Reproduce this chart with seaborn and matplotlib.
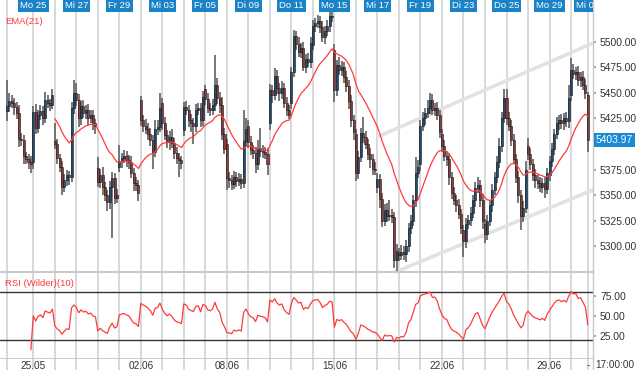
import numpy as np
import pandas as pd
import matplotlib
matplotlib.use("Agg")
import matplotlib.pyplot as plt
import seaborn as sns
from matplotlib.ticker import FormatStrFormatter

# ---------------- data (hourly closes per trading day) ----------------
fr22_close = [5437, 5442, 5440, 5436, 5430, 5405, 5404, 5388, 5385, 5382, 5380]
mo25_close = [5431, 5416, 5428, 5432, 5425, 5443, 5440, 5438, 5448]
di26_close = [5400, 5386, 5378, 5358, 5365, 5370, 5368, 5435, 5450]
mi27_close = [5443, 5425, 5437, 5430, 5433, 5425, 5428, 5420, 5418]
do28_close = [5363, 5370, 5358, 5350, 5343, 5358, 5367, 5347, 5350]
fr29_close = [5383, 5386, 5388, 5384, 5382, 5372, 5362, 5360, 5352]
di02_close = [5423, 5418, 5415, 5410, 5404, 5392, 5415, 5417, 5435]
mi03_close = [5420, 5409, 5402, 5407, 5401, 5391, 5386, 5384, 5381]
do04_close = [5436, 5433, 5423, 5420, 5418, 5433, 5435, 5423, 5446]
fr05_close = [5444, 5435, 5433, 5438, 5458, 5445, 5438, 5410, 5395]
mo08_close = [5367, 5365, 5361, 5368, 5364, 5366, 5362, 5403, 5415]
di09_close = [5402, 5394, 5391, 5380, 5396, 5393, 5392, 5390, 5380]
mi10_close = [5453, 5448, 5466, 5455, 5450, 5455, 5440, 5433, 5428]
do11_close = [5470, 5505, 5498, 5490, 5494, 5475, 5483, 5480, 5499]
fr12_close = [5515, 5518, 5520, 5514, 5504, 5510, 5515, 5525, 5524]
mo15_close = [5453, 5477, 5472, 5475, 5465, 5457, 5442, 5423, 5412]
di16_close = [5372, 5387, 5411, 5407, 5400, 5390, 5385, 5376, 5375]
mi17_close = [5366, 5346, 5325, 5336, 5330, 5331, 5329, 5287, 5296]
do18_close = [5292, 5295, 5293, 5300, 5318, 5325, 5345, 5372, 5378]
fr19_close = [5418, 5425, 5430, 5435, 5443, 5433, 5435, 5428, 5412]
mo22_close = [5398, 5388, 5385, 5368, 5352, 5345, 5340, 5332, 5318]
di23_close = [5305, 5322, 5326, 5333, 5345, 5357, 5360, 5345, 5325]
mi24_close = [5312, 5325, 5340, 5355, 5368, 5382, 5398, 5425, 5445]
do25_close = [5425, 5418, 5404, 5385, 5368, 5350, 5330, 5338, 5375]
fr26_close = [5390, 5380, 5370, 5365, 5362, 5358, 5362, 5356, 5372]
mo29_close = [5383, 5395, 5410, 5420, 5423, 5420, 5425, 5422, 5445]
di30_close = [5472, 5468, 5470, 5462, 5465, 5458, 5450]
mi01_close = [5403.97]

# open of the first bar of each day (other bars open at previous close)
day_opens = [5432, 5382, 5403, 5450, 5377, 5378, 5443, 5440, 5414, 5454,
             5400, 5418, 5420, 5440, 5497, 5492, 5410, 5358, 5294, 5380,
             5410, 5316, 5322, 5445, 5398, 5370, 5448, 5448]

# wick extent above / below the body (points)
fr22_up = [25, 8, 6, 5, 5, 8, 6, 5, 4, 5, 6]
fr22_dn = [10, 6, 5, 8, 6, 8, 6, 8, 5, 6, 8]
mo25_up = [6, 8, 5, 6, 5, 8, 5, 4, 6]
mo25_dn = [6, 6, 5, 5, 6, 5, 5, 6, 4]
di26_up = [17, 5, 4, 5, 6, 5, 4, 6, 12]
di26_dn = [5, 6, 5, 8, 5, 6, 8, 5, 6]
mi27_up = [10, 6, 5, 6, 5, 6, 5, 5, 4]
mi27_dn = [6, 8, 6, 5, 6, 6, 5, 6, 8]
do28_up = [10, 6, 8, 5, 5, 6, 6, 5, 6]
do28_dn = [5, 6, 8, 6, 8, 6, 50, 6, 5]
fr29_up = [16, 5, 6, 5, 5, 6, 5, 6, 5]
fr29_dn = [5, 6, 5, 6, 6, 5, 8, 6, 8]
di02_up = [4, 5, 6, 5, 6, 5, 8, 6, 15]
di02_dn = [5, 6, 5, 6, 6, 16, 5, 6, 5]
mi03_up = [5, 6, 5, 6, 8, 5, 6, 5, 4]
mi03_dn = [6, 5, 6, 8, 5, 6, 6, 16, 5]
do04_up = [5, 6, 5, 6, 5, 6, 5, 5, 6]
do04_dn = [6, 5, 6, 8, 18, 6, 5, 6, 5]
fr05_up = [4, 6, 5, 6, 29, 6, 6, 8, 6]
fr05_dn = [6, 5, 6, 5, 6, 6, 8, 6, 5]
mo08_up = [5, 6, 5, 6, 5, 6, 5, 30, 10]
mo08_dn = [12, 8, 6, 5, 6, 5, 6, 5, 6]
di09_up = [5, 6, 5, 6, 8, 20, 6, 5, 6]
di09_dn = [6, 5, 6, 8, 5, 6, 6, 5, 10]
mi10_up = [6, 5, 8, 6, 5, 6, 5, 6, 5]
mi10_dn = [6, 8, 5, 6, 8, 6, 5, 6, 4]
do11_up = [5, 6, 5, 6, 5, 6, 5, 6, 5]
do11_dn = [6, 5, 6, 5, 6, 4, 6, 5, 6]
fr12_up = [6, 5, 6, 5, 6, 5, 6, 5, 9]
fr12_dn = [5, 6, 5, 6, 4, 6, 5, 6, 5]
mo15_up = [6, 5, 8, 6, 5, 6, 5, 6, 5]
mo15_dn = [12, 6, 5, 6, 5, 6, 8, 6, 8]
di16_up = [5, 6, 5, 15, 6, 5, 6, 5, 6]
di16_dn = [8, 6, 5, 6, 5, 6, 8, 6, 5]
mi17_up = [6, 5, 6, 5, 6, 14, 6, 5, 6]
mi17_dn = [6, 8, 6, 5, 6, 5, 6, 8, 15]
do18_up = [5, 6, 5, 6, 5, 6, 5, 15, 6]
do18_dn = [6, 5, 6, 8, 5, 6, 5, 6, 5]
fr19_up = [5, 6, 5, 8, 7, 6, 5, 6, 5]
fr19_dn = [6, 5, 6, 5, 6, 5, 6, 5, 6]
mo22_up = [5, 6, 5, 6, 5, 6, 5, 6, 5]
mo22_dn = [6, 5, 6, 8, 6, 5, 6, 5, 6]
di23_up = [5, 6, 5, 6, 5, 6, 8, 5, 6]
di23_dn = [15, 6, 5, 6, 5, 6, 5, 6, 8]
mi24_up = [5, 6, 5, 6, 5, 6, 8, 6, 9]
mi24_dn = [9, 6, 5, 6, 5, 6, 5, 6, 5]
do25_up = [9, 6, 5, 6, 5, 6, 5, 6, 8]
do25_dn = [6, 5, 6, 5, 6, 8, 14, 6, 5]
fr26_up = [8, 6, 5, 6, 5, 6, 5, 6, 5]
fr26_dn = [6, 5, 6, 8, 6, 5, 6, 9, 5]
mo29_up = [5, 6, 5, 6, 5, 6, 5, 6, 13]
mo29_dn = [6, 5, 6, 5, 6, 5, 6, 5, 6]
di30_up = [12, 6, 5, 6, 5, 6, 5]
di30_dn = [6, 5, 6, 5, 6, 5, 6]
mi01_up = [3]
mi01_dn = [12]

top_labels = ["Mo 25", "Mi 27", "Fr 29", "Mi 03", "Fr 05", "Di 09", "Do 11",
              "Mo 15", "Mi 17", "Fr 19", "Di 23", "Do 25", "Mo 29", "Mi 01"]
top_label_days = [1, 3, 5, 7, 9, 11, 13, 15, 17, 19, 21, 23, 25, 27]
bottom_labels = ["25.05", "02.06", "08.06", "15.06", "22.06", "29.06", "-"]
bottom_label_days = [1, 6, 10, 15, 20, 25, 27]

price_ticks = [5300, 5325, 5350, 5375, 5425, 5450, 5475, 5500]
rsi_ticks = [25, 50, 75]
rsi_levels = [80, 20]
last_price = 5403.97

trend_upper_x = [154.8, 245.2]
trend_upper_y = [5406.8, 5498.5]
trend_lower_x = [161.5, 253.1]
trend_lower_y = [5274.1, 5362.9]

closes_by_day = [fr22_close, mo25_close, di26_close, mi27_close, do28_close, fr29_close,
                 di02_close, mi03_close, do04_close, fr05_close, mo08_close, di09_close,
                 mi10_close, do11_close, fr12_close, mo15_close, di16_close, mi17_close,
                 do18_close, fr19_close, mo22_close, di23_close, mi24_close, do25_close,
                 fr26_close, mo29_close, di30_close, mi01_close]
ups_by_day = [fr22_up, mo25_up, di26_up, mi27_up, do28_up, fr29_up, di02_up, mi03_up,
              do04_up, fr05_up, mo08_up, di09_up, mi10_up, do11_up, fr12_up, mo15_up,
              di16_up, mi17_up, do18_up, fr19_up, mo22_up, di23_up, mi24_up, do25_up,
              fr26_up, mo29_up, di30_up, mi01_up]
dns_by_day = [fr22_dn, mo25_dn, di26_dn, mi27_dn, do28_dn, fr29_dn, di02_dn, mi03_dn,
              do04_dn, fr05_dn, mo08_dn, di09_dn, mi10_dn, do11_dn, fr12_dn, mo15_dn,
              di16_dn, mi17_dn, do18_dn, fr19_dn, mo22_dn, di23_dn, mi24_dn, do25_dn,
              fr26_dn, mo29_dn, di30_dn, mi01_dn]

# ---------------- build OHLC table ----------------
rows = []
day_starts = []
idx = 0
prev = None
for d, (cl, up, dn) in enumerate(zip(closes_by_day, ups_by_day, dns_by_day)):
    day_starts.append(idx)
    for j, c in enumerate(cl):
        o = day_opens[d] if j == 0 else prev
        rows.append(dict(i=idx, open=o, close=c,
                         high=max(o, c) + up[j], low=min(o, c) - dn[j]))
        prev = c
        idx += 1
df = pd.DataFrame(rows)
df["ema"] = df["close"].ewm(span=21, adjust=False).mean()

delta = df["close"].diff()
gain = delta.clip(lower=0)
loss = (-delta).clip(lower=0)
n = 10
avg_g = gain.copy() * np.nan
avg_l = loss.copy() * np.nan
avg_g.iloc[n] = gain.iloc[1:n + 1].mean()
avg_l.iloc[n] = loss.iloc[1:n + 1].mean()
for k in range(n + 1, len(df)):
    avg_g.iloc[k] = (avg_g.iloc[k - 1] * (n - 1) + gain.iloc[k]) / n
    avg_l.iloc[k] = (avg_l.iloc[k - 1] * (n - 1) + loss.iloc[k]) / n
df["rsi"] = 100 - 100 / (1 + avg_g / avg_l)

# ---------------- figure ----------------
sns.set_theme(style="white")
plt.rcParams["font.family"] = ["Liberation Sans", "DejaVu Sans"]

W, H = 640, 370
PX = 2.39          # pixels per bar
X0 = 7             # pixel of bar 0
xlim = (-X0 / PX, (593 - X0) / PX)
AXR = 593 / W

fig = plt.figure(figsize=(6.4, 3.7), dpi=100)
ax = fig.add_axes([0, 1 - 272 / H, AXR, 272 / H])
axr = fig.add_axes([0, 1 - 359 / H, AXR, (359 - 273) / H])
axs = fig.add_axes([0, 0, AXR, 11 / H])

grid_c = "#d5d5d5"
for a in (ax, axr, axs):
    a.set_xlim(*xlim)
    a.set_facecolor("white")
    for x in day_starts:
        a.axvline(x, color=grid_c, lw=1.3, zorder=0)
    for s in ("left", "top"):
        a.spines[s].set_visible(False)
    a.spines["right"].set_color("#c8c8c8")
    a.spines["bottom"].set_color("#c8c8c8")
    a.spines["right"].set_linewidth(1.0)
    a.spines["bottom"].set_linewidth(1.4)
    a.set_xticks([])

# price panel
ax.set_ylim(5275.1, 5540.5)
ax.plot(trend_upper_x, trend_upper_y, color="#e2e2e2", lw=2.6, zorder=1, solid_capstyle="butt")
ax.plot(trend_lower_x, trend_lower_y, color="#e2e2e2", lw=2.6, zorder=1, solid_capstyle="butt")

up_mask = df["close"] >= df["open"]
ax.vlines(df["i"], df["low"], df["high"], color="#666666", lw=1.25, zorder=2)
body = (df["close"] - df["open"]).abs().clip(lower=0.8)
bottom = np.minimum(df["open"], df["close"])
ax.bar(df["i"][up_mask], body[up_mask], bottom=bottom[up_mask], width=0.85,
       color="#1d4e77", edgecolor="#151515", linewidth=0.4, zorder=3)
ax.bar(df["i"][~up_mask], body[~up_mask], bottom=bottom[~up_mask], width=0.85,
       color="#8c3b3b", edgecolor="#151515", linewidth=0.4, zorder=3)

ema_df = df.iloc[20:]
sns.lineplot(x=ema_df["i"], y=ema_df["ema"], ax=ax, color="#ff3b3b", lw=0.9, zorder=4, legend=False)
ax.set_xlabel("")
ax.set_ylabel("")

ax.yaxis.tick_right()
ax.set_yticks(price_ticks)
ax.yaxis.set_major_formatter(FormatStrFormatter("%.2f"))
ax.tick_params(axis="y", length=2, color="#999999", pad=3, labelsize=7.4, labelcolor="#333333")

for lab, d in zip(top_labels, top_label_days):
    ax.text(day_starts[d], 1 - 5.5 / 272, lab, transform=ax.get_xaxis_transform(),
            ha="center", va="center", fontsize=6.8, color="white", clip_on=True, zorder=6,
            bbox=dict(boxstyle="square,pad=0.22", fc="#1a82c6", ec="none"))

fig.text(5 / W, 1 - 21 / H, "EMA(21)", color="#ff3b3b", fontsize=6.8, va="center", ha="left")
fig.text(596 / W, 1 - 140 / H, f"{last_price:.2f}", color="white", fontsize=7.4, va="center",
         ha="left", bbox=dict(boxstyle="square,pad=0.2", fc="#1a8ad4", ec="none"))

# RSI panel
axr.set_ylim(-4.1, 103.4)
for lv in rsi_levels:
    axr.axhline(lv, color="#333333", lw=1.0, zorder=2)
rsi_df = df.iloc[10:]
sns.lineplot(x=rsi_df["i"], y=rsi_df["rsi"], ax=axr, color="#ff3b3b", lw=0.9, zorder=4, legend=False)
axr.set_xlabel("")
axr.set_ylabel("")
axr.yaxis.tick_right()
axr.set_yticks(rsi_ticks)
axr.yaxis.set_major_formatter(FormatStrFormatter("%.2f"))
axr.tick_params(axis="y", length=2, color="#999999", pad=3, labelsize=7.4, labelcolor="#333333")
axr.set_xticks([])
fig.text(5 / W, 1 - 283 / H, "RSI (Wilder)(10)", color="#ff3b3b", fontsize=6.8, va="center", ha="left")

# date strip
axs.set_ylim(0, 1)
axs.set_yticks([])
axs.spines["bottom"].set_visible(False)
for lab, d in zip(bottom_labels, bottom_label_days):
    axs.text(day_starts[d], 0.4, lab, ha="center", va="center", fontsize=7.2, color="#333333")
fig.text(615 / W, 1 - 365 / H, "17:00:00", ha="center", va="center", fontsize=7.2, color="#333333")

fig.savefig("out.png", dpi=100)
